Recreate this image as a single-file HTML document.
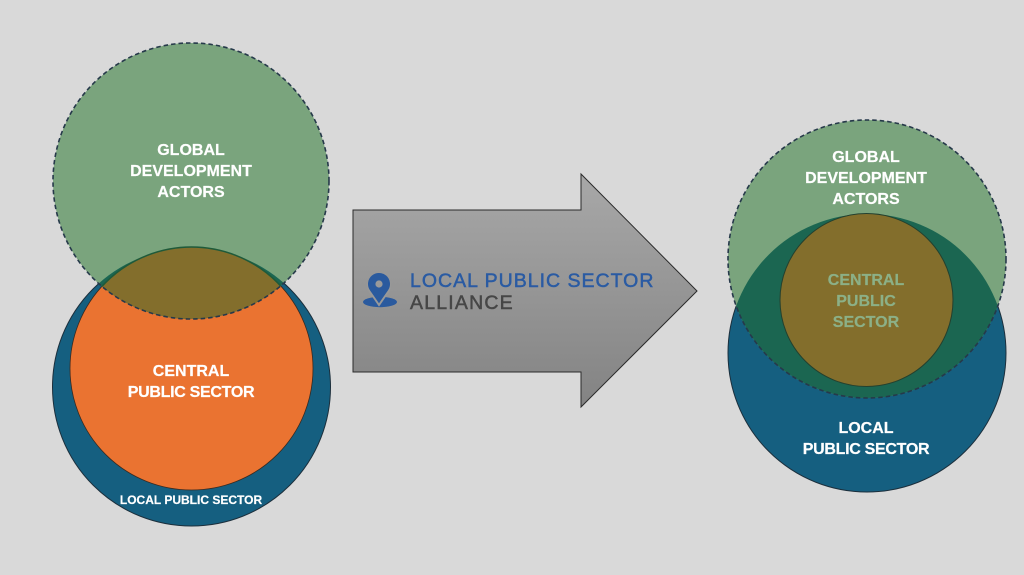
<!DOCTYPE html>
<html><head><meta charset="utf-8"><style>
html,body{margin:0;padding:0;background:#d9d9d9;}
svg{display:block;}
text{font-family:"Liberation Sans",Arial,sans-serif;}
</style></head><body>
<svg width="1024" height="575" viewBox="0 0 1024 575" xmlns="http://www.w3.org/2000/svg">
<defs>
<clipPath id="gL"><circle cx="191" cy="181" r="138"/></clipPath>
<clipPath id="gR"><circle cx="867" cy="259" r="139"/></clipPath>
<linearGradient id="ag" x1="0" y1="174" x2="0" y2="407" gradientUnits="userSpaceOnUse">
<stop offset="0" stop-color="#a8a8a8"/><stop offset="1" stop-color="#838383"/>
</linearGradient>
</defs>
<rect width="1024" height="575" fill="#d9d9d9"/>

<!-- LEFT -->
<circle cx="191.5" cy="387" r="139" fill="#155f80" stroke="#1c2f3c" stroke-width="1"/>
<circle cx="191.5" cy="368.5" r="121.5" fill="#ea7331" stroke="#3a2a20" stroke-width="0.8"/>
<circle cx="191" cy="181" r="138" fill="#7aa47d"/>
<g clip-path="url(#gL)">
<circle cx="191.5" cy="387" r="139" fill="#1b6652"/>
<circle cx="191.5" cy="368.5" r="121.5" fill="#836e2c" stroke="#1f5a3a" stroke-width="1.5"/>
</g>
<circle cx="191" cy="181" r="138" fill="none" stroke="#26394a" stroke-width="1.6" stroke-dasharray="4.5 3"/>
<g fill="#fff" font-weight="bold" font-size="16" text-anchor="middle" stroke="#fff" stroke-width="0.2">
<text x="191" y="155">GLOBAL</text>
<text x="191" y="176">DEVELOPMENT</text>
<text x="191" y="197">ACTORS</text>
<text x="191" y="376">CENTRAL</text>
<text x="191" y="397" letter-spacing="-0.3">PUBLIC SECTOR</text>
<text x="191" y="504" font-size="12">LOCAL PUBLIC SECTOR</text>
</g>

<!-- ARROW -->
<path d="M353,210 L581,210 L581,174 L697,291 L581,407 L581,372 L353,372 Z" fill="url(#ag)" stroke="#2a2a2a" stroke-width="1"/>
<ellipse cx="380" cy="302" rx="17" ry="5.2" fill="#2a5a9e"/>
<path d="M379,305 L369.5,291 A11,11 0 1 1 388.5,291 Z" fill="#2a5a9e" stroke="#999" stroke-width="2"/>
<path d="M379,303 L369.8,290 A11,11 0 1 1 388.2,290 Z" fill="#2a5a9e"/>
<circle cx="379" cy="284" r="3.6" fill="#9a9a9a"/>
<text x="410" y="287" font-size="19.5" letter-spacing="1.0" fill="#2a5ba3" stroke="#2a5ba3" stroke-width="0.5">LOCAL PUBLIC SECTOR</text>
<text x="410" y="309" font-size="19.5" letter-spacing="1.2" fill="#464646" stroke="#464646" stroke-width="0.5">ALLIANCE</text>

<!-- RIGHT -->
<circle cx="867" cy="353" r="139" fill="#155f80" stroke="#1c2f3c" stroke-width="1"/>
<circle cx="867" cy="259" r="139" fill="#7aa47d"/>
<g clip-path="url(#gR)">
<circle cx="867" cy="353" r="139" fill="#1b6651"/>
</g>
<circle cx="866.5" cy="300" r="86.5" fill="#836e2c" stroke="#24402e" stroke-width="1"/>
<circle cx="867" cy="259" r="139" fill="none" stroke="#26394a" stroke-width="1.6" stroke-dasharray="4.5 3"/>
<g fill="#fff" font-weight="bold" font-size="16" text-anchor="middle" stroke="#fff" stroke-width="0.2">
<text x="866" y="162">GLOBAL</text>
<text x="866" y="183">DEVELOPMENT</text>
<text x="866" y="204">ACTORS</text>
<text x="866" y="433">LOCAL</text>
<text x="866" y="454" letter-spacing="-0.3">PUBLIC SECTOR</text>
</g>
<g fill="#8cb087" font-weight="bold" font-size="16" text-anchor="middle" stroke="#8cb087" stroke-width="0.2">
<text x="866" y="285">CENTRAL</text>
<text x="866" y="306">PUBLIC</text>
<text x="866" y="327">SECTOR</text>
</g>
</svg>
</body></html>
